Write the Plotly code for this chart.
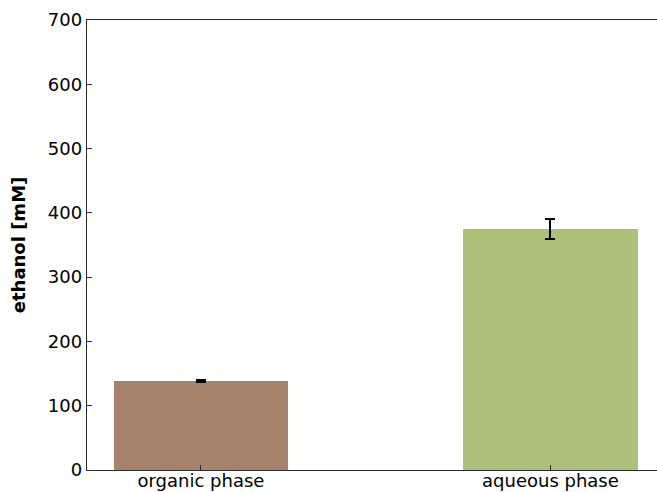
import plotly.graph_objects as go

# Ethanol concentration measured in each phase
categories = ["organic phase", "aqueous phase"]
ethanol_mM = [139, 375]
ethanol_err = [1.5, 15]
bar_colors = ["#A6836A", "#ADC079"]

y_ticks = [0, 100, 200, 300, 400, 500, 600, 700]

font_family = "DejaVu Sans"
axis_color = "#2a2a2a"
label_size = 18

fig = go.Figure(
    go.Bar(
        x=[0, 1],
        y=ethanol_mM,
        width=0.5,
        marker=dict(color=bar_colors, line=dict(width=0)),
        error_y=dict(
            type="data",
            array=ethanol_err,
            visible=True,
            color="black",
            thickness=2,
            width=5,
        ),
    )
)

fig.update_layout(
    width=657,
    height=492,
    margin=dict(l=87, r=0, t=20, b=22),
    plot_bgcolor="white",
    paper_bgcolor="white",
    font=dict(family=font_family, size=label_size, color="black"),
    showlegend=False,
    bargap=0,
)

fig.update_xaxes(
    automargin=False,
    range=[-0.326, 1.305],
    tickmode="array",
    tickvals=[0, 1],
    ticktext=categories,
    ticks="inside",
    ticklen=5,
    tickwidth=1.2,
    tickcolor=axis_color,
    ticklabelstandoff=-6,
    showline=True,
    linecolor=axis_color,
    linewidth=1.4,
    mirror=True,
    showgrid=False,
    zeroline=False,
    tickfont=dict(size=label_size),
)

fig.update_yaxes(
    automargin=False,
    range=[0, 700],
    tickmode="array",
    tickvals=y_ticks,
    ticktext=[str(v) for v in y_ticks],
    ticks="inside",
    ticklen=5,
    tickwidth=1.2,
    tickcolor=axis_color,
    showline=True,
    linecolor=axis_color,
    linewidth=1.4,
    showgrid=False,
    zeroline=False,
    tickfont=dict(size=label_size),
    title=dict(
        text="<b>ethanol [mM]</b>",
        font=dict(size=label_size, family=font_family),
        standoff=17,
    ),
)

fig.write_html("out.html")
